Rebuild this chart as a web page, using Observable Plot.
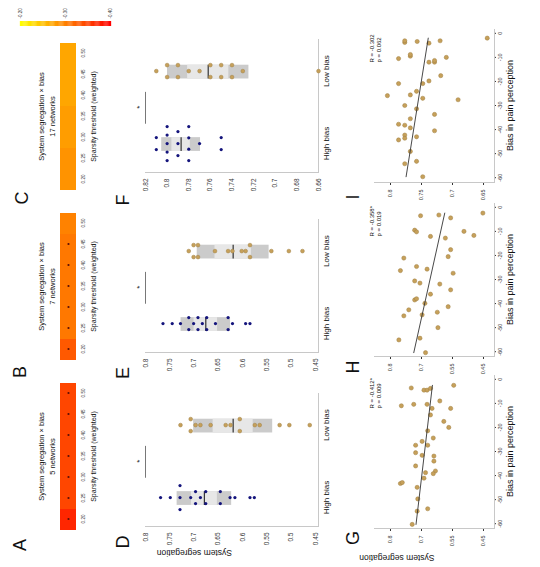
<!DOCTYPE html>
<html><head><meta charset="utf-8">
<script src="https://cdn.jsdelivr.net/npm/d3@7"></script>
<script src="https://cdn.jsdelivr.net/npm/@observablehq/plot@0.6"></script>
<style>
html,body{margin:0;padding:0;background:#fff;width:540px;height:567px;overflow:hidden;}
#fig{position:absolute;left:0;top:0;width:567px;height:540px;transform-origin:0 0;transform:translate(0px,567px) rotate(-90deg);font-family:"Liberation Sans",Arial,sans-serif;}
.pane{position:absolute;}
.pane svg{max-width:none !important;}
.lab{position:absolute;font-size:18px;transform:translate(-50%,-50%);color:#111;line-height:1;}
</style></head>
<body><div id="fig"></div>
<script>
// ---------- data ----------
const thresholds = [0.20, 0.25, 0.30, 0.35, 0.40, 0.45, 0.50];
const heatA = [-0.370, -0.345, -0.345, -0.345, -0.345, -0.345, -0.345];
const heatB = [-0.330, -0.306, -0.306, -0.306, -0.306, -0.306, -0.298];
const heatC = [-0.285, -0.285, -0.277, -0.277, -0.270, -0.270, -0.270];
const sigA = [1, 1, 1, 1, 1, 1, 1];
const sigB = [1, 1, 1, 1, 1, 1, 0];
const sigC = [0, 0, 0, 0, 0, 0, 0];
const networkLabels = ["5 networks", "7 networks", "17 networks"];
const colorTicks = [-0.20, -0.30, -0.40];

const categories = ["High bias", "Low bias"];
const dHigh = [0.769, 0.749, 0.729, 0.729, 0.729, 0.707, 0.697, 0.697, 0.687, 0.676, 0.676, 0.646, 0.646, 0.626, 0.616, 0.585, 0.576];
const dLow  = [0.728, 0.707, 0.707, 0.697, 0.687, 0.666, 0.635, 0.625, 0.606, 0.606, 0.575, 0.565, 0.524, 0.504, 0.462];
const eHigh = [0.764, 0.745, 0.728, 0.711, 0.711, 0.701, 0.692, 0.692, 0.683, 0.674, 0.674, 0.656, 0.630, 0.630, 0.621, 0.594, 0.585];
const eLow  = [0.711, 0.701, 0.701, 0.692, 0.692, 0.657, 0.630, 0.621, 0.602, 0.594, 0.585, 0.585, 0.541, 0.505, 0.477];
const fHigh = [0.81, 0.81, 0.80, 0.80, 0.80, 0.80, 0.80, 0.79, 0.79, 0.79, 0.78, 0.78, 0.78, 0.78, 0.77, 0.75, 0.75];
const fLow  = [0.81, 0.80, 0.80, 0.79, 0.79, 0.78, 0.77, 0.76, 0.76, 0.75, 0.75, 0.74, 0.74, 0.73, 0.66];
const ticksDE = [0.8, 0.75, 0.7, 0.65, 0.6, 0.55, 0.5, 0.45];
const ticksF = [0.82, 0.8, 0.78, 0.76, 0.74, 0.72, 0.7, 0.68, 0.66];

const biasTicks = [-60, -50, -40, -30, -20, -10, 0];
const ticksGH = [0.8, 0.7, 0.6, 0.5];
const tickLabelsGH = ["0.8", "0.7", "0.55", "0.45"];
const ticksI = [0.8, 0.75, 0.7, 0.65];
const tickLabelsI = ["0.8", "0.75", "0.7", "0.65"];
const biasG = [-60.3, -54.8, -53.8, -49.7, -44.9, -43.3, -42.9, -41.1, -38.8, -38.1, -39.2, -36.0, -34.0, -31.9, -31.6, -30.5, -27.4, -27.4, -25.8, -24.4, -21.4, -20.0, -17.5, -14.8, -12.1, -11.0, -10.4, -10.4, -12.1, -9.0, -3.6, -4.5, -4.5, -3.8, -2.5];
const segG  = [0.730, 0.714, 0.680, 0.712, 0.714, 0.768, 0.762, 0.692, 0.687, 0.655, 0.662, 0.719, 0.660, 0.660, 0.698, 0.719, 0.719, 0.680, 0.698, 0.662, 0.680, 0.612, 0.628, 0.671, 0.606, 0.765, 0.725, 0.682, 0.666, 0.641, 0.733, 0.692, 0.682, 0.671, 0.596];
const biasH = [-60.4, -55.1, -54.4, -50.0, -45.1, -44.7, -43.6, -42.6, -41.3, -39.9, -38.5, -38.0, -36.1, -34.3, -31.9, -31.5, -30.6, -27.4, -26.3, -25.7, -24.6, -21.1, -20.5, -17.6, -12.8, -12.1, -11.7, -10.0, -9.5, -10.2, -3.5, -4.4, -3.2, -2.4];
const segH  = [0.687, 0.773, 0.705, 0.647, 0.757, 0.698, 0.649, 0.741, 0.614, 0.689, 0.722, 0.716, 0.671, 0.606, 0.641, 0.705, 0.722, 0.598, 0.768, 0.682, 0.716, 0.757, 0.614, 0.606, 0.623, 0.671, 0.531, 0.563, 0.722, 0.716, 0.703, 0.606, 0.644, 0.502];
const biasI = [-59.6, -53.2, -54.2, -49.1, -44.3, -42.3, -43.6, -43.0, -40.5, -39.3, -38.2, -37.8, -35.5, -33.7, -31.4, -30.0, -27.0, -27.6, -25.6, -24.1, -25.9, -20.9, -20.9, -19.8, -17.6, -12.0, -12.0, -9.5, -8.8, -10.5, -10.0, -11.3, -3.8, -3.1, -3.4, -4.1, -3.1, -2.0];
const segI  = [0.748, 0.758, 0.777, 0.768, 0.787, 0.777, 0.777, 0.758, 0.729, 0.768, 0.777, 0.787, 0.768, 0.729, 0.758, 0.777, 0.748, 0.691, 0.768, 0.758, 0.805, 0.748, 0.787, 0.738, 0.719, 0.729, 0.738, 0.768, 0.768, 0.787, 0.710, 0.729, 0.777, 0.777, 0.757, 0.738, 0.720, 0.644];
const statR = ["-0.412*", "-0.358*", "-0.302"];
const statP = ["0.009", "0.019", "0.062"];

// ---------- helpers ----------
const FONT = '"Liberation Sans", Arial, sans-serif';
const fig = document.getElementById("fig");
function place(node, left, top) {
  const d = document.createElement("div");
  d.className = "pane"; d.style.left = left + "px"; d.style.top = top + "px";
  d.appendChild(node); fig.appendChild(d);
}
function letter(t, u, v) {
  const d = document.createElement("div");
  d.className = "lab"; d.textContent = t; d.style.left = u + "px"; d.style.top = v + "px";
  fig.appendChild(d);
}
const autumn = {type: "linear", domain: [-0.4, -0.2], range: ["#ff0000", "#ffff00"], interpolate: "rgb"};
const numFmt = d => String(+d.toFixed(3));

// ---------- row 1: heatmaps ----------
function heatmap(vals, sig, net, left) {
  const data = thresholds.map((t, i) => ({t, v: vals[i], s: sig[i]}));
  return place(Plot.plot({
    width: 190, height: 110, marginLeft: 35, marginRight: 5, marginTop: 60, marginBottom: 34,
    style: {fontFamily: FONT, fontSize: "4.5px", background: "transparent", overflow: "visible", color: "#333"},
    x: {type: "band", domain: thresholds, padding: 0, tickFormat: d3.format(".2f"), tickSize: 0, tickPadding: 5, label: null},
    color: autumn,
    marks: [
      Plot.cell(data, {x: "t", fill: "v"}),
      Plot.dot(data.filter(d => d.s), {x: "t", r: 1.1, fill: "#5a0f08"}),
      Plot.text(["System segregation \u00d7 bias"], {text: d => d, frameAnchor: "top", dy: -22, fontSize: 7.5, fill: "#111"}),
      Plot.text([net], {text: d => d, frameAnchor: "top", dy: -11, fontSize: 7.5, fill: "#111"}),
      Plot.text(["Sparsity threshold (weighted)"], {text: d => d, frameAnchor: "bottom", dy: 19, fontSize: 7, fill: "#111"})
    ]
  }), left, 0);
}
heatmap(heatA, sigA, networkLabels[0], 0);
heatmap(heatB, sigB, networkLabels[1], 170);
heatmap(heatC, sigC, networkLabels[2], 340);

// colorbar
place(Plot.plot({
  width: 47, height: 115, marginLeft: 21, marginRight: 21, marginTop: 20, marginBottom: 5,
  style: {fontFamily: FONT, fontSize: "4.5px", background: "transparent", overflow: "visible", color: "#333"},
  x: {axis: null},
  y: {domain: [-0.4, -0.2], axis: "right", ticks: colorTicks, tickFormat: d => d.toFixed(2), tickSize: 0, tickPadding: 2, label: null},
  color: autumn,
  marks: [Plot.ruleY(d3.range(-0.4, -0.1995, 0.0025), {y: d => d, stroke: d => d, strokeWidth: 1.3})]
}), 520, 0);

// ---------- row 2: notBoxPlot panels ----------
const pxPerUnit = 134 / 1.85;
function jitter(vals) {
  const off = new Array(vals.length).fill(0);
  const groups = d3.group(vals.map((v, i) => ({v, i})), d => d.v);
  for (const arr of groups.values()) {
    const n = arr.length;
    if (n < 2) continue;
    const step = Math.min(12, 34 / (n - 1)) / pxPerUnit;
    arr.forEach((d, k) => off[d.i] = (k - (n - 1) / 2) * step);
  }
  return off;
}
function boxPanel(high, low, yDomain, yTicks, showLabel, left) {
  const groups = [high, low];
  const pts = [];
  groups.forEach((vals, g) => {
    const off = jitter(vals);
    vals.forEach((v, i) => pts.push({x: g + off[i], y: v, g}));
  });
  const stats = groups.map((vals, g) => {
    const mean = d3.mean(vals), sd = d3.deviation(vals);
    return {g, mean, sd, ci: 1.96 * sd / Math.sqrt(vals.length)};
  });
  const hw = 0.095;
  const yTop = yDomain[1];
  place(Plot.plot({
    width: 180, height: 220, marginLeft: 40, marginRight: 6, marginTop: 25, marginBottom: 22,
    style: {fontFamily: FONT, fontSize: "6.5px", background: "transparent", overflow: "visible", color: "#333"},
    x: {domain: [-0.4, 1.45], axis: null},
    y: {domain: yDomain, ticks: yTicks, tickFormat: numFmt, tickSize: 0, tickPadding: 6, label: null},
    marks: [
      Plot.ruleX([-0.4], {stroke: "#c8c8c8"}),
      Plot.ruleY([yDomain[0]], {stroke: "#c8c8c8"}),
      Plot.rect(stats, {x1: d => d.g - hw, x2: d => d.g + hw, y1: d => d.mean - d.sd, y2: d => d.mean + d.sd, fill: "#cbcbcb"}),
      Plot.rect(stats, {x1: d => d.g - hw, x2: d => d.g + hw, y1: d => d.mean - d.ci, y2: d => d.mean + d.ci, fill: "#e7e7e7"}),
      Plot.ruleY(stats, {y: "mean", x1: d => d.g - hw, x2: d => d.g + hw, stroke: "#333", strokeWidth: 1.2}),
      Plot.dot(pts.filter(d => d.g === 0), {x: "x", y: "y", r: 1.6, fill: "#14147c"}),
      Plot.dot(pts.filter(d => d.g === 1), {x: "x", y: "y", r: 1.9, fill: "#c6a05a", stroke: "#9f7f40", strokeWidth: 0.5}),
      Plot.ruleY([yTop], {x1: 0.28, x2: 0.72, stroke: "#555", strokeWidth: 0.8}),
      Plot.text(["*"], {text: d => d, x: 0.5, y: yTop, dy: -6, fontSize: 8, fill: "#111"}),
      Plot.text(categories, {text: d => d, x: (d, i) => i, frameAnchor: "bottom", dy: 10, fontSize: 8, fill: "#111"}),
      showLabel ? Plot.text(["System segregation"], {text: d => d, frameAnchor: "left", dx: -26, rotate: -90, fontSize: 8.5, fill: "#111"}) : null
    ]
  }), left, 120);
}
boxPanel(dHigh, dLow, [0.444, 0.8], ticksDE, true, 0);
boxPanel(eHigh, eLow, [0.444, 0.8], ticksDE, false, 174);
boxPanel(fHigh, fLow, [0.66, 0.82], ticksF, false, 354);

// ---------- row 3: scatter panels ----------
function scatter(bias, seg, yDomain, yTicks, yLabels, k, showLabel, left) {
  const data = bias.map((b, i) => ({b, s: seg[i]}));
  place(Plot.plot({
    width: 200, height: 196, marginLeft: 38, marginRight: 8, marginTop: 30, marginBottom: 46,
    style: {fontFamily: FONT, fontSize: "5.5px", background: "transparent", overflow: "visible", color: "#333"},
    x: {domain: [-62, 2], ticks: biasTicks, tickFormat: d => String(d), tickSize: 2, tickPadding: 1.5, label: null},
    y: {domain: yDomain, ticks: yTicks, tickFormat: d => yLabels[yTicks.indexOf(d)], tickSize: 2, tickPadding: 5, label: null},
    marks: [
      Plot.ruleX([-62], {stroke: "#c8c8c8"}),
      Plot.ruleY([yDomain[0]], {stroke: "#c8c8c8"}),
      Plot.dot(data, {x: "b", y: "s", r: 2.1, fill: "#c6a05a", stroke: "#9f7f40", strokeWidth: 0.5}),
      Plot.linearRegressionY(data, {x: "b", y: "s", ci: 0, stroke: "#333", strokeWidth: 0.9}),
      Plot.text([`R = ${statR[k]}\np = ${statP[k]}`], {text: d => d, frameAnchor: "top-right", dx: -34, dy: 1, textAnchor: "start", lineAnchor: "middle", lineHeight: 1.2, fontSize: 6, fill: "#111"}),
      Plot.text(["Bias in pain perception"], {text: d => d, frameAnchor: "bottom", dy: 18, fontSize: 9, fill: "#111"}),
      showLabel ? Plot.text(["System segregation"], {text: d => d, frameAnchor: "left", dx: -29, rotate: -90, fontSize: 8.5, fill: "#111"}) : null
    ]
  }), left, 344);
}
scatter(biasG, segG, [0.4645, 0.8516], ticksGH, tickLabelsGH, 0, true, 0);
scatter(biasH, segH, [0.4645, 0.8516], ticksGH, tickLabelsGH, 1, false, 172);
scatter(biasI, segI, [0.6323, 0.8258], ticksI, tickLabelsI, 2, false, 346);

// ---------- panel letters ----------
[["A", 22, 20], ["B", 195, 20], ["C", 369, 22],
 ["D", 25, 123], ["E", 194, 123], ["F", 367, 123],
 ["G", 29, 353], ["H", 200, 353], ["I", 370, 353]].forEach(([t, u, v]) => letter(t, u, v));
</script></body></html>
